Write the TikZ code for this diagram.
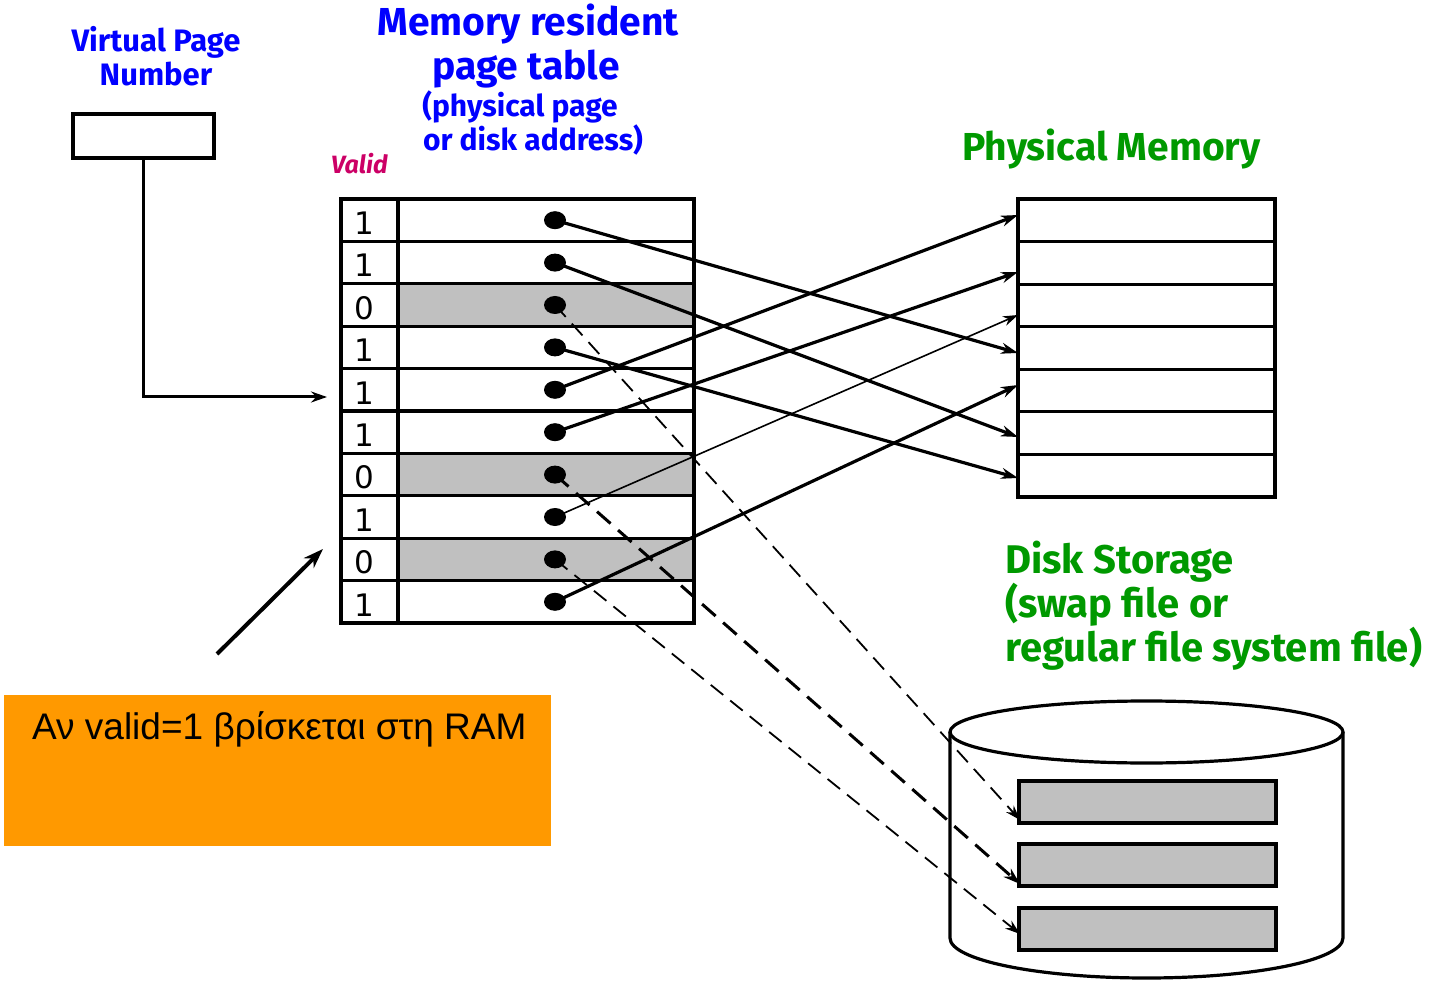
\documentclass[tikz,border=0pt]{standalone}
\usepackage{fontspec}
\setmainfont{Liberation Sans}
\newfontfamily\titlefont{Fira Sans}
\newfontfamily\numfont{DejaVu Sans}
\usetikzlibrary{arrows.meta,shapes.geometric}

\definecolor{titleblue}{HTML}{0000FF}
\definecolor{titlegreen}{HTML}{009900}
\definecolor{validred}{HTML}{CC0066}
\definecolor{notebox}{HTML}{FF9900}
\definecolor{cellgray}{HTML}{C0C0C0}

\tikzset{
  frame/.style={line width=3.2pt},
  dotmark/.style={ellipse, fill=black, minimum width=22pt, minimum height=18pt, inner sep=0pt},
  link/.style={line width=3.2pt, -{Stealth[length=17pt,width=11pt]}},
  thinlink/.style={line width=1.6pt, -{Stealth[length=15pt,width=10pt]}},
  swaplink/.style={line width=1.8pt, dash pattern=on 16pt off 9pt, -{Stealth[length=15pt,width=10pt]}},
  swaplinkbold/.style={line width=3pt, dash pattern=on 18pt off 10pt, -{Stealth[length=17pt,width=11pt]}},
  bluetitle/.style={text=titleblue, font=\titlefont\bfseries, inner sep=0pt, anchor=base},
  greentitle/.style={text=titlegreen, font=\titlefont\bfseries\fontsize{40}{45}\selectfont, inner sep=0pt, anchor=base west},
  bitlabel/.style={font=\numfont\fontsize{31}{34}\selectfont, inner sep=0pt},
}

\begin{document}
\begin{tikzpicture}[x=1pt, y=-1pt]
\useasboundingbox (0,0) rectangle (1443,981);

% ---- titles ----
\node[bluetitle, font=\titlefont\bfseries\fontsize{31}{34}\selectfont] (vpn1) at (156,52) {Virtual Page};
\node[bluetitle, font=\titlefont\bfseries\fontsize{31}{34}\selectfont] (vpn2) at (156,86) {Number};
\node[bluetitle, font=\titlefont\bfseries\fontsize{39}{44}\selectfont] (pt1) at (528,36) {Memory resident};
\node[bluetitle, font=\titlefont\bfseries\fontsize{39}{44}\selectfont] (pt2) at (526,80) {page table};
\node[bluetitle, font=\titlefont\bfseries\fontsize{30}{34}\selectfont] (pt3) at (520,117) {(physical page};
\node[bluetitle, font=\titlefont\bfseries\fontsize{30}{34}\selectfont] (pt4) at (533,151) {or disk address)};
\node[text=validred, font=\titlefont\bfseries\itshape\fontsize{25}{28}\selectfont, inner sep=0pt, anchor=base west] (valid) at (331,174) {Valid};
\node[greentitle, font=\titlefont\bfseries\fontsize{39}{44}\selectfont] (pm) at (962,161) {Physical Memory};
\node[greentitle] (ds1) at (1005,573) {Disk Storage};
\node[greentitle] (ds2) at (1005,617) {(swap file or};
\node[greentitle] (ds3) at (1005,661) {regular file system file)};

% ---- virtual page number register ----
\node[draw, frame, minimum width=141pt, minimum height=44pt, inner sep=0pt] (vpn) at (143.5,136) {};
\coordinate (lookup) at (327,397);
\draw[line width=3pt, -{Stealth[length=16pt,width=11pt]}] (vpn.south) |- (lookup);

% ---- page table ----
\foreach \r in {3,7,9}
  \fill[cellgray] (398,{199+(\r-1)*42.4}) rectangle (694,{199+\r*42.4});
\foreach \r in {1,...,9}
  \draw[frame] (341,{199+\r*42.4}) -- (694,{199+\r*42.4});
\draw[frame] (341,199) rectangle (694,623);
\draw[frame] (398,199) -- (398,623);
\foreach \r/\b in {1/1,2/1,3/0,4/1,5/1,6/1,7/0,8/1,9/0,10/1}{
  \node[bitlabel] (bit\r) at (364,{199+(\r-0.5)*42.4+3}) {\b};
  \node[dotmark] (d\r) at (555,{199+(\r-0.5)*42.4}) {};
}

% ---- physical memory ----
\draw[frame] (1018,199) rectangle (1275,497);
\foreach \r in {1,...,6}
  \draw[frame] (1018,{199+\r*42.57}) -- (1275,{199+\r*42.57});
\coordinate (m1) at (1018,215);
\coordinate (m2) at (1018,272);
\coordinate (m3) at (1018,315);
\coordinate (m4) at (1018,353);
\coordinate (m5) at (1018,385);
\coordinate (m6) at (1018,437);
\coordinate (m7) at (1018,478);

% ---- disk ----
\draw[frame, fill=white] (950,732) -- (950,938)
  arc[start angle=180, end angle=0, x radius=196.5, y radius=40] -- (1343,732);
\draw[frame] (1146.5,732) ellipse [x radius=196.5, y radius=31];
\foreach \k/\t in {1/781,2/844,3/908}
  \draw[frame, fill=cellgray] (1019,\t) rectangle (1276,{\t+42});
\coordinate (s1) at (1020,820);
\coordinate (s2) at (1020,884);
\coordinate (s3) at (1020,934);

% ---- mappings ----
\draw[link] (d1.center) -- (m4);
\draw[link] (d2.center) -- (m6);
\draw[link] (d4.center) -- (m7);
\draw[link] (d5.center) -- (m1);
\draw[link] (d6.center) -- (m2);
\draw[thinlink] (d8.center) -- (m3);
\draw[link] (d10.center) -- (m5);
\draw[swaplink] (d3.center) -- (s1);
\draw[swaplinkbold] (d7.center) -- (s2);
\draw[swaplink] (d9.center) -- (s3);

% ---- note ----
\node[fill=notebox, minimum width=547pt, minimum height=151pt, inner sep=0pt, anchor=north west] (note) at (4,695) {};
\node[font=\fontsize{37}{40}\selectfont, inner sep=0pt, anchor=base west] (notetext) at (32,739) {Αν valid=1 βρίσκεται στη RAM};
\coordinate (pointer) at (323,549);
\draw[line width=4pt, -{Stealth[length=20pt,width=14pt]}] (217,654) -- (pointer);
\end{tikzpicture}
\end{document}
